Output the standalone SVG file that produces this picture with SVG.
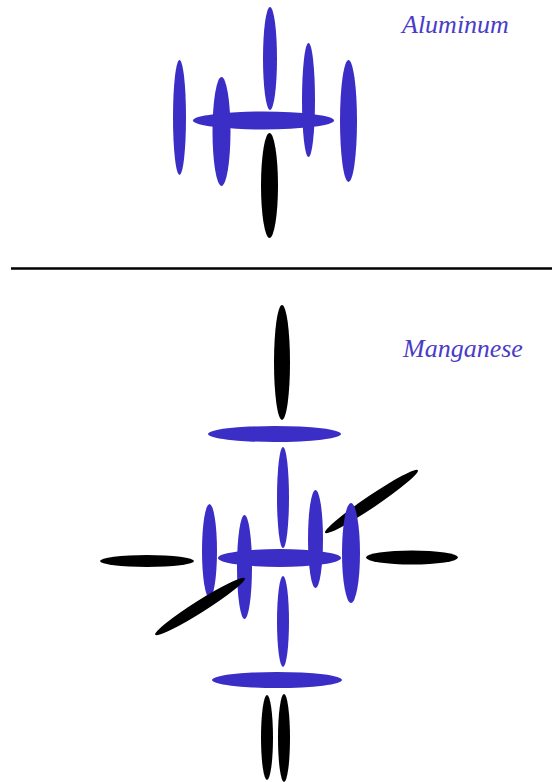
<svg xmlns="http://www.w3.org/2000/svg" width="552" height="782" viewBox="0 0 552 782">
  <style>
    .b { fill: #3b2ec6; }
    .k { fill: #000000; }
    .lbl { font-family: "Liberation Serif", serif; font-style: italic; font-size: 26px; fill: #4a3cc8; }
  </style>
  <rect width="552" height="782" fill="#ffffff"/>

  <!-- Aluminum -->
  <g id="aluminum">
    <ellipse class="b" cx="179.5" cy="117.5" rx="6.5" ry="57.5"/>
    <ellipse class="b" cx="221.5" cy="131.5" rx="9" ry="54.5"/>
    <ellipse class="b" cx="270" cy="58.5" rx="7" ry="51.5"/>
    <ellipse class="b" cx="308.5" cy="100" rx="6.5" ry="57"/>
    <ellipse class="b" cx="348.5" cy="121" rx="8.5" ry="61"/>
    <ellipse class="b" cx="263.5" cy="120.5" rx="70.5" ry="9"/>
    <ellipse class="k" cx="269.5" cy="185.5" rx="8.5" ry="52.5"/>
    <text class="lbl" x="402" y="33">Aluminum</text>
  </g>

  <line x1="11" y1="268.5" x2="552" y2="268.5" stroke="#000" stroke-width="2.5"/>

  <!-- Manganese -->
  <g id="manganese">
    <ellipse class="k" cx="282" cy="362.5" rx="8" ry="57.5"/>
    <ellipse class="b" cx="274.5" cy="434" rx="66.5" ry="8"/>
    <ellipse class="k" cx="371.5" cy="501.5" rx="56" ry="6" transform="rotate(-34 371.5 501.5)"/>
    <ellipse class="k" cx="147" cy="561" rx="47" ry="6"/>
    <ellipse class="k" cx="412" cy="557.5" rx="46" ry="7"/>
    <ellipse class="b" cx="283" cy="497.5" rx="6" ry="50.5"/>
    <ellipse class="b" cx="209.5" cy="551" rx="7.5" ry="47"/>
    <ellipse class="b" cx="244.5" cy="567" rx="7.5" ry="52"/>
    <ellipse class="b" cx="315.5" cy="539" rx="7.5" ry="49"/>
    <ellipse class="b" cx="351" cy="553" rx="9" ry="50"/>
    <ellipse class="b" cx="279.5" cy="558" rx="61.5" ry="9"/>
    <ellipse class="k" cx="200" cy="606.5" rx="53" ry="6" transform="rotate(-32.3 200 606.5)"/>
    <ellipse class="b" cx="283" cy="621.5" rx="6" ry="45.5"/>
    <ellipse class="b" cx="277" cy="680" rx="65" ry="8"/>
    <ellipse class="k" cx="267" cy="737.5" rx="6" ry="42.5"/>
    <ellipse class="k" cx="284" cy="738" rx="6" ry="44"/>
    <text class="lbl" x="403" y="357">Manganese</text>
  </g>
</svg>
